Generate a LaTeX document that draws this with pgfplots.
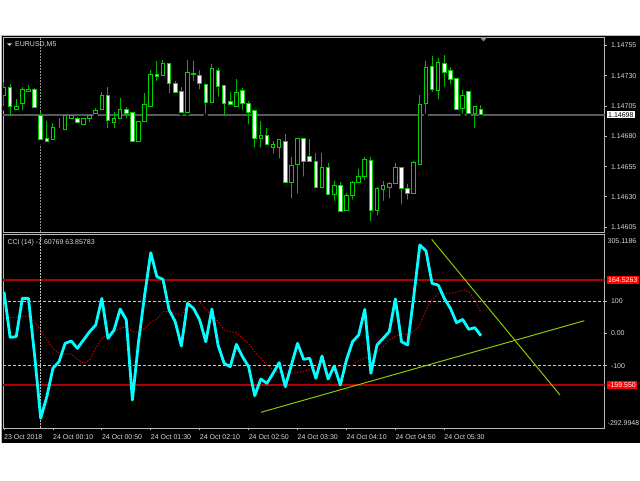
\documentclass[border=0pt]{standalone}
\usepackage{fontspec}
\setmainfont{Liberation Sans}
\usepackage{pgfplots}
\usepackage{pgfplotstable}
\pgfplotsset{compat=1.18}

\definecolor{wick}{HTML}{00B400}
\definecolor{bodyline}{HTML}{00D200}
\definecolor{framegray}{HTML}{B8B8B8}
\definecolor{lbl}{HTML}{D8D8D8}
\definecolor{bidline}{HTML}{555A60}
\definecolor{sepgray}{HTML}{909090}
\definecolor{sepgraylt}{HTML}{C0C0C0}
\definecolor{ccicyan}{HTML}{00FFFF}
\definecolor{sigred}{HTML}{C00000}
\definecolor{lvlred}{HTML}{B00000}
\definecolor{boxred}{HTML}{FF0000}
\definecolor{trend}{HTML}{8CC800}
\definecolor{lvlgray}{HTML}{C8C8C8}

\newcommand{\lblfont}{\fontsize{7}{8}\selectfont}

% EURUSD M5 candles, prices in points above 1.14000 (698 = 1.14698)
\pgfplotstableread{
i O H L C
0 714 725 703 720
1 720 723 695 705
2 702 711 700 705
3 707 721 700 719
4 717 722 716 719
5 719 720 703 704
6 697 700 675 677
7 678 693 675 676
8 677 691 676 687
9 686 695 685 686
10 686 697 685 697
11 695 697 694 697
12 695 696 690 691
13 690 695 688 695
14 695 698 690 697
15 699 703 698 701
16 702 717 701 714
17 714 721 685 693
18 691 700 685 695
19 695 712 694 702
20 702 704 693 699
21 700 700 676 676
22 676 693 675 692
23 692 716 691 706
24 705 735 705 731
25 731 742 724 729
26 730 743 729 740
27 740 740 714 724
28 724 726 716 716
29 717 721 699 700
30 700 743 699 733
31 732 742 724 731
32 730 735 717 724
33 723 723 697 708
34 708 740 706 736
35 734 736 711 721
36 722 722 695 707
37 709 717 706 706
38 705 727 705 716
39 718 720 700 707
40 707 709 688 700
41 701 701 669 678
42 678 693 669 681
43 681 687 671 673
44 671 676 664 673
45 671 677 660 677
46 676 682 641 642
47 642 663 627 656
48 657 678 631 678
49 678 678 645 659
50 663 678 657 659
51 659 666 637 638
52 638 666 637 654
53 654 658 632 632
54 632 643 625 639
55 639 642 617 618
56 619 633 617 631
57 631 643 626 642
58 642 653 642 647
59 647 663 642 661
60 660 663 608 619
61 619 638 613 637
62 636 643 625 639
63 638 642 627 641
64 641 658 641 654
65 654 654 622 637
66 637 641 626 633
67 633 660 632 658
68 657 714 657 706
69 707 742 697 737
70 738 746 715 719
71 718 745 709 741
72 740 747 719 733
73 734 737 721 727
74 728 728 701 702
75 703 718 697 714
76 717 717 697 699
77 699 705 685 705
78 702 706 698 698
}\candles

% CCI(14) and its dotted signal line
\pgfplotstableread{
i cci sig
0 128.9 46.3
1 -12.5 49.4
2 -10.4 49.4
3 108.2 52.5
4 108.2 53.5
5 -67.2 36.0
6 -263.3 10.2
7 -196.2 -20.8
8 -108.5 -46.6
9 -87.8 -62.0
10 -31.1 -64.0
11 -23.9 -64.0
12 -46.6 -80.6
13 -20.8 -93.0
14 5.0 -82.7
15 25.7 -46.6
16 108.2 -15.6
17 -15.6 -5.3
18 10.2 5.0
19 75.2 15.4
20 41.2 20.5
21 -206.5 5.0
22 -25.9 1.9
23 118.6 15.4
24 249.6 33.9
25 175.3 43.2
26 167.1 67.0
27 72.1 67.0
28 36.0 61.8
29 -39.3 56.6
30 92.8 87.6
31 77.3 101.0
32 41.2 97.9
33 -25.9 74.2
34 75.2 56.6
35 -36.2 36.0
36 -93.0 10.2
37 -103.3 5.0
38 -34.2 1.9
39 -72.4 -15.6
40 -103.3 -31.1
41 -193.1 -56.9
42 -141.5 -77.5
43 -154.9 -98.2
44 -124.0 -113.6
45 -90.9 -121.9
46 -165.2 -124.0
47 -98.2 -124.0
48 -31.1 -121.9
49 -80.6 -118.8
50 -77.5 -111.6
51 -139.4 -103.3
52 -70.3 -101.3
53 -141.5 -103.3
54 -101.3 -105.4
55 -160.1 -103.3
56 -82.7 -101.3
57 -25.9 -98.2
58 -5.3 -84.7
59 74.2 -77.5
60 -124.0 -67.2
61 -36.2 -56.9
62 -15.6 -41.4
63 5.0 -20.8
64 106.2 -8.4
65 -25.9 -0.1
66 -36.2 -5.3
67 113.4 5.0
68 273.4 25.7
69 255.8 72.1
70 154.7 103.1
71 149.5 123.7
72 108.2 123.7
73 77.3 123.7
74 32.9 126.8
75 43.2 134.0
76 12.3 128.9
77 17.4 103.1
78 -7.60769 63.85783
}\ccidata

\pgfplotsset{
  mtpanel/.style={
    anchor=south west, scale only axis, width=601.5pt,
    xmin=-0.1635, xmax=98.2,
    clip mode=individual,
    axis line style={draw=framegray, line width=0.8pt},
    tick align=outside, major tick length=2.5pt,
    tick style={draw=framegray, line width=0.8pt},
    ytick pos=right, yticklabel pos=right,
    yticklabel style={font=\lblfont, text=lbl, anchor=west, inner sep=0pt, xshift=3.8pt},
  },
}

\begin{document}
\begin{tikzpicture}[x=1pt,y=1pt]
\path[use as bounding box, fill=white] (0,0) rectangle (640,480);
\fill[black] (2,37) rectangle (640,444);
\draw[framegray, line width=0.8pt] (1.2,37) -- (1.2,444.4) -- (640,444.4);

% price window: frame, scale, separator, bid line and wicks
\begin{axis}[mtpanel,
  at={(3pt,248pt)}, height=195pt,
  ymin=601, ymax=762,
  xtick=\empty,
  ytick={605,630,655,680,705,730,755},
  yticklabels={1.14605,1.14630,1.14655,1.14680,1.14705,1.14730,1.14755},
]
\addplot[sepgray, line width=1.6pt, dash pattern=on 2pt off 1pt] coordinates {(6,601) (6,762)};
\addplot[bidline, line width=2pt] coordinates {(-0.1635,698) (98.2,698)};
\addplot[only marks, mark=none, error bars/.cd, y dir=plus, y explicit, error mark=none,
  error bar style={draw=wick, line width=1pt, line cap=butt}]
  table[x=i, y=L, y error expr={\thisrow{H}-\thisrow{L}}] {\candles};
\node[anchor=west, fill=white, text=black, font=\lblfont, inner xsep=1.3pt, inner ysep=1.3pt,
      text height=5pt, text depth=0pt, xshift=2.2pt] at (axis cs:98.2,698) {1.14698};
\end{axis}

% price window: candle bodies (stacked on an invisible base at the body low)
\begin{axis}[
  at={(3pt,248pt)}, anchor=south west, scale only axis,
  width=601.5pt, height=195pt,
  xmin=-0.1635, xmax=98.2, ymin=601, ymax=762,
  hide axis, clip mode=individual,
  ybar stacked, bar width=3.6pt,
]
\addplot[draw=none, fill=none] table[x=i, y expr={min(\thisrow{O},\thisrow{C})}] {\candles};
\addplot[draw=bodyline, fill=black, line width=1pt] table[x=i, y expr={max(\thisrow{C}-\thisrow{O},0)}] {\candles};
\addplot[draw=bodyline, fill=white, line width=1pt] table[x=i, y expr={max(\thisrow{O}-\thisrow{C},0)}] {\candles};
\end{axis}

% CCI window
\begin{axis}[mtpanel,
  at={(3pt,52.1pt)}, height=193.1pt,
  ymin=-292.9948, ymax=305.1186,
  ytick={-100,0,100},
  yticklabels={-100,0.00,100},
  xtick={0,8,16,24,32,40,48,56,64,72},
  xticklabels={23 Oct 2018,24 Oct 00:10,24 Oct 00:50,24 Oct 01:30,24 Oct 02:10,24 Oct 02:50,24 Oct 03:30,24 Oct 04:10,24 Oct 04:50,24 Oct 05:30},
  xtick pos=bottom, xticklabel pos=bottom,
  xticklabel style={font=\lblfont, text=lbl, anchor=north west, inner sep=0pt, yshift=-4pt},
]
\addplot[lvlred, line width=1.8pt] coordinates {(-0.1635,164.5263) (98.2,164.5263)};
\addplot[lvlred, line width=1.8pt] coordinates {(-0.1635,-159.550) (98.2,-159.550)};
\addplot[lvlgray, line width=0.8pt, dash pattern=on 3pt off 2pt] coordinates {(-0.1635,100) (98.2,100)};
\addplot[lvlgray, line width=0.8pt, dash pattern=on 3pt off 2pt] coordinates {(-0.1635,-100) (98.2,-100)};
\addplot[sepgraylt, line width=1.2pt, dash pattern=on 1.5pt off 1.5pt] coordinates {(6,-292.9948) (6,305.1186)};
\addplot[sigred, line width=1pt, dash pattern=on 1.5pt off 1.5pt] table[x=i, y=sig] {\ccidata};
\addplot[ccicyan, line width=2.8pt, line join=round] table[x=i, y=cci] {\ccidata};
% trend lines
\addplot[trend, line width=1pt] coordinates {(42.03,-244.6) (94.9,39.0)};
\addplot[trend, line width=1pt] coordinates {(69.94,291.0) (90.92,-191.0)};
% scale labels
\node[anchor=west, text=lbl, font=\lblfont, inner sep=0pt, xshift=3pt] at (axis cs:98.2,286.8) {305.1186};
\node[anchor=west, text=lbl, font=\lblfont, inner sep=0pt, xshift=3pt] at (axis cs:98.2,-276.9) {-292.9948};
\node[anchor=west, fill=boxred, text=white, font=\lblfont, inner xsep=1.3pt, inner ysep=1.3pt,
      text height=5pt, text depth=0pt, xshift=2.2pt] at (axis cs:98.2,164.5263) {164.5263};
\node[anchor=west, fill=boxred, text=white, font=\lblfont, inner xsep=1.3pt, inner ysep=1.3pt,
      text height=5pt, text depth=0pt, xshift=2.2pt] at (axis cs:98.2,-159.550) {-159.550};
\end{axis}

% window captions
\fill[lbl] (7,436.7) -- (12,436.7) -- (9.5,434) -- cycle;
\node[anchor=west, text=lbl, font=\lblfont, inner sep=0pt] at (15,435.3) {EURUSD,M5};
\node[anchor=west, text=lbl, font=\lblfont, inner sep=0pt] at (7.3,237.7) {CCI (14) -7.60769 63.85783};
% chart shift marker
\fill[sepgray] (480,442.6) -- (487,442.6) -- (483.5,438.6) -- cycle;
\end{tikzpicture}
\end{document}
